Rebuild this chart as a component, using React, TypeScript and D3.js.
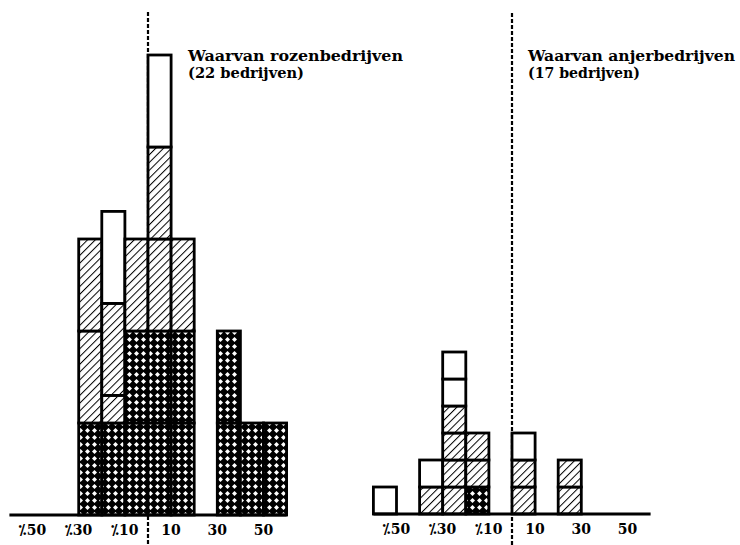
import React from "react";
import * as d3 from "d3";

// ---- data ----
const tickValues = [-50, -30, -10, 10, 30, 50];
const tickPrefix = "\u2052"; // "./." minus sign used in the source

const rozenTitle = ["Waarvan rozenbedrijven", "(22 bedrijven)"];
const rozenBinStart = [-30, -20, -10, 0, 10, 30, 40, 50];
// K = kruisarcering, G = gearceerd, W = wit ; [type, height]
const rozenStacks: [string, number][][] = [
  [["K", 1], ["G", 1], ["G", 1]],
  [["K", 1], ["G", 0.3], ["G", 1], ["W", 1]],
  [["K", 1], ["K", 1], ["G", 1]],
  [["K", 1], ["K", 1], ["G", 1], ["G", 1], ["W", 1]],
  [["K", 1], ["K", 1], ["G", 1]],
  [["K", 1], ["K", 1]],
  [["K", 1]],
  [["K", 1]],
];

const anjerTitle = ["Waarvan anjerbedrijven", "(17 bedrijven)"];
const anjerBinStart = [-60, -40, -30, -20, 0, 20];
const anjerStacks: [string, number][][] = [
  [["W", 1]],
  [["G", 1], ["W", 1]],
  [["G", 1], ["G", 1], ["G", 1], ["G", 1], ["W", 1], ["W", 1]],
  [["K", 1], ["G", 1], ["G", 1]],
  [["G", 1], ["G", 1], ["W", 1]],
  [["G", 1], ["G", 1]],
];

const BIN = 10;
const fillFor = (t: string) =>
  t === "K" ? "url(#kruis)" : t === "G" ? "url(#arcering)" : "#fff";

type PanelProps = {
  bins: number[];
  stacks: [string, number][][];
  title: string[];
  x0: number;
  baseY: number;
  yMax: number;
  yTop: number;
  titleX: number;
  titleW: number[];
  dashTop: number;
};

function Panel(p: PanelProps) {
  const x = d3.scaleLinear().domain([-60, 60]).range([p.x0 - 138.6, p.x0 + 138.6]);
  const y = d3.scaleLinear().domain([0, p.yMax]).range([p.baseY, p.yTop]);
  const boxes: JSX.Element[] = [];
  p.stacks.forEach((stack, i) => {
    let acc = 0;
    stack.forEach(([t, h], j) => {
      const y1 = y(acc + h);
      const y0 = y(acc);
      acc += h;
      boxes.push(
        <rect
          key={`${i}-${j}`}
          x={x(p.bins[i])}
          y={y1}
          width={x(p.bins[i] + BIN) - x(p.bins[i])}
          height={y0 - y1}
          fill={fillFor(t)}
          stroke="#000"
          strokeWidth={2.8}
        />
      );
    });
  });
  return (
    <g>
      <line
        x1={x(0)}
        x2={x(0)}
        y1={p.dashTop}
        y2={545}
        stroke="#000"
        strokeWidth={2.2}
        strokeDasharray="4 2"
      />
      {boxes}
      <line x1={x(-60)} x2={x(60)} y1={p.baseY} y2={p.baseY} stroke="#000" strokeWidth={2.8} />
      {tickValues.map((v) => (
        <text
          key={v}
          x={x(v)}
          y={p.baseY + 20}
          textAnchor="middle"
          fontFamily="'DejaVu Serif', serif"
          fontWeight="bold"
          fontSize={14}
        >
          {v < 0 ? tickPrefix + Math.abs(v) : String(v)}
        </text>
      ))}
      {p.title.map((t, i) => (
        <text
          key={t}
          x={p.titleX}
          y={61 + i * 17}
          fontFamily="'DejaVu Serif', serif"
          fontWeight="bold"
          fontSize={14}
          textLength={p.titleW[i]}
          lengthAdjust="spacingAndGlyphs"
        >
          {t}
        </text>
      ))}
    </g>
  );
}

export default function App() {
  return (
    <svg
      width={740}
      height={545}
      style={{ position: "absolute", left: 0, top: 0, background: "#fff" }}
    >
      <defs>
        <pattern id="arcering" width={5.5} height={5.5} patternUnits="userSpaceOnUse" patternTransform="rotate(45)">
          <rect width={5.5} height={5.5} fill="#fff" />
          <line x1={0} y1={0} x2={0} y2={5.5} stroke="#000" strokeWidth={2} />
        </pattern>
        <pattern id="kruis" width={7} height={7} patternUnits="userSpaceOnUse">
          <rect width={7} height={7} fill="#000" />
          <path d="M3.5,1 L6,3.5 L3.5,6 L1,3.5 Z" fill="#fff" />
        </pattern>
      </defs>
      <rect width={740} height={545} fill="#fff" />
      <Panel
        bins={rozenBinStart}
        stacks={rozenStacks}
        title={rozenTitle}
        x0={148}
        baseY={515}
        yMax={5}
        yTop={55}
        titleX={188}
        titleW={[215, 116]}
        dashTop={12}
      />
      <Panel
        bins={anjerBinStart}
        stacks={anjerStacks}
        title={anjerTitle}
        x0={512}
        baseY={514}
        yMax={6}
        yTop={352}
        titleX={528}
        titleW={[207, 112]}
        dashTop={13}
      />
    </svg>
  );
}
